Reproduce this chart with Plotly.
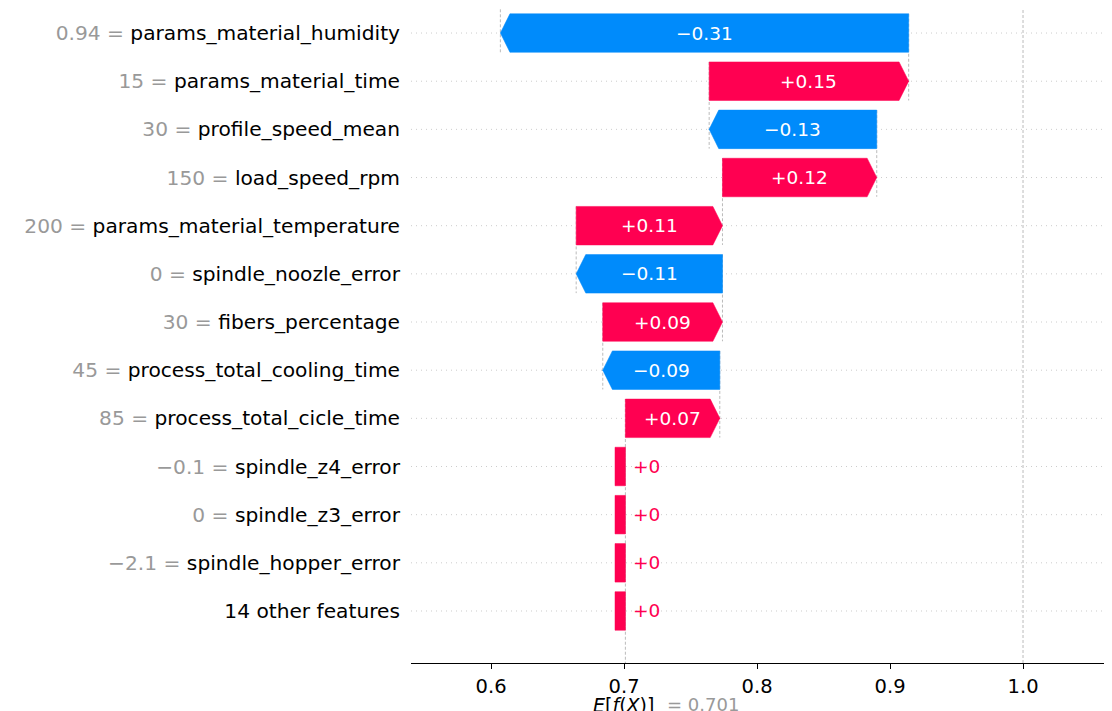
import plotly.graph_objects as go

# ---------------- data (bottom row first) ----------------
features = ["14 other features", "spindle_hopper_error", "spindle_z3_error", "spindle_z4_error",
            "process_total_cicle_time", "process_total_cooling_time", "fibers_percentage",
            "spindle_noozle_error", "params_material_temperature", "load_speed_rpm",
            "profile_speed_mean", "params_material_time", "params_material_humidity"]
feature_values = ["", "\u22122.1", "0", "\u22120.1", "85", "45", "30", "0", "200", "150", "30", "15", "0.94"]
shap_values = [0.0, 0.0, 0.0, 0.0, 0.071, -0.088, 0.090, -0.110, 0.110, 0.116, -0.126, 0.150, -0.307]
base_value = 0.701
x_ticks = [0.6, 0.7, 0.8, 0.9, 1.0]
x_tick_labels = ["0.6", "0.7", "0.8", "0.9", "1.0"]
ref_line = 1.0

# ---------------- style ----------------
POS = "#ff0051"
NEG = "#008bfb"
FONT = "DejaVu Sans"
X_RANGE = [0.5398, 1.0669]
Y_RANGE = [-1.08, 12.52]
HALF_H = 0.4
HEAD = 0.0072
MIN_W = 0.0078


def fmt(v):
    s = f"{v:+.2f}".rstrip("0").rstrip(".")
    return s.replace("-", "\u2212")


fig = go.Figure()
shapes = []
annotations = []

rows = list(range(len(features)))
cum = base_value
starts, ends = [], []
for v in shap_values:
    starts.append(cum)
    cum = cum + v
    ends.append(cum)
fx = cum

for r, (v, s, e) in enumerate(zip(shap_values, starts, ends)):
    color = POS if v >= 0 else NEG
    w = abs(e - s)
    if w <= HEAD:
        xs = [e - MIN_W, e, e, e - MIN_W, e - MIN_W]
        ys = [r - HALF_H, r - HALF_H, r + HALF_H, r + HALF_H, r - HALF_H]
    elif v >= 0:
        xs = [s, e - HEAD, e, e - HEAD, s, s]
        ys = [r - HALF_H, r - HALF_H, r, r + HALF_H, r + HALF_H, r - HALF_H]
    else:
        xs = [s, e + HEAD, e, e + HEAD, s, s]
        ys = [r - HALF_H, r - HALF_H, r, r + HALF_H, r + HALF_H, r - HALF_H]
    fig.add_trace(go.Scatter(x=xs, y=ys, mode="lines", fill="toself", fillcolor=color,
                             line=dict(color=color, width=0.5), hoverinfo="skip", showlegend=False))
    if w <= HEAD:
        annotations.append(dict(x=e, y=r, xref="x", yref="y", text=fmt(v), showarrow=False,
                                xanchor="left", xshift=6, font=dict(family=FONT, size=18.5, color=color)))
    else:
        annotations.append(dict(x=(s + e) / 2, y=r, xref="x", yref="y", text=fmt(v), showarrow=False,
                                xanchor="center", font=dict(family=FONT, size=18.5, color="white")))
    # dotted row guide
    shapes.append(dict(type="line", xref="paper", yref="y", x0=0, x1=1, y0=r, y1=r, layer="below",
                       line=dict(color="#cccccc", width=1, dash="1px,4px")))
    # connector line at the start of each bar
    shapes.append(dict(type="line", xref="x", yref="y", x0=s, x1=s, y0=r + HALF_H,
                       y1=max(r - 1 - HALF_H, Y_RANGE[0]), layer="below",
                       line=dict(color="#bbbbbb", width=1, dash="3px,2px")))

# f(x) line to the top
shapes.append(dict(type="line", xref="x", yref="y", x0=fx, x1=fx, y0=rows[-1] - HALF_H, y1=Y_RANGE[1],
                   layer="below", line=dict(color="#bbbbbb", width=1, dash="3px,2px")))
# reference line
shapes.append(dict(type="line", xref="x", yref="y", x0=ref_line, x1=ref_line, y0=Y_RANGE[0], y1=Y_RANGE[1],
                   layer="below", line=dict(color="#bbbbbb", width=1, dash="3px,2px")))

ticktext = []
for name, val in zip(features, feature_values):
    if val:
        ticktext.append(f"<span style='color:#999999'>{val} = </span>{name}")
    else:
        ticktext.append(name)

# E[f(X)] label
annotations.append(dict(x=base_value, y=0, xref="x", yref="paper", yanchor="top", xanchor="right",
                        xshift=31, yshift=-29, showarrow=False,
                        text="<i>E</i>[<i>f</i>(<i>X</i>)]", font=dict(family=FONT, size=19, color="black")))
annotations.append(dict(x=base_value, y=0, xref="x", yref="paper", yanchor="top", xanchor="left",
                        xshift=40, yshift=-29, showarrow=False,
                        text=f"= {base_value:.3f}", font=dict(family=FONT, size=18, color="#999999")))

fig.update_layout(
    width=1112, height=711,
    margin=dict(l=403, r=8, t=0, b=56),
    paper_bgcolor="white", plot_bgcolor="white",
    shapes=shapes, annotations=annotations,
    showlegend=False,
    xaxis=dict(range=X_RANGE, tickvals=x_ticks, ticktext=x_tick_labels, showgrid=False, zeroline=False,
               showline=True, linecolor="black", linewidth=1.2, ticks="outside", ticklen=5,
               tickcolor="black", tickwidth=1.2, tickfont=dict(family=FONT, size=19.5, color="black"),
               automargin=False),
    yaxis=dict(range=Y_RANGE, tickvals=rows, ticktext=ticktext, showgrid=False, zeroline=False,
               showline=False, ticks="", tickfont=dict(family=FONT, size=20.2, color="black"),
               ticklabelstandoff=10, automargin=False),
)

fig.write_html("out.html")
